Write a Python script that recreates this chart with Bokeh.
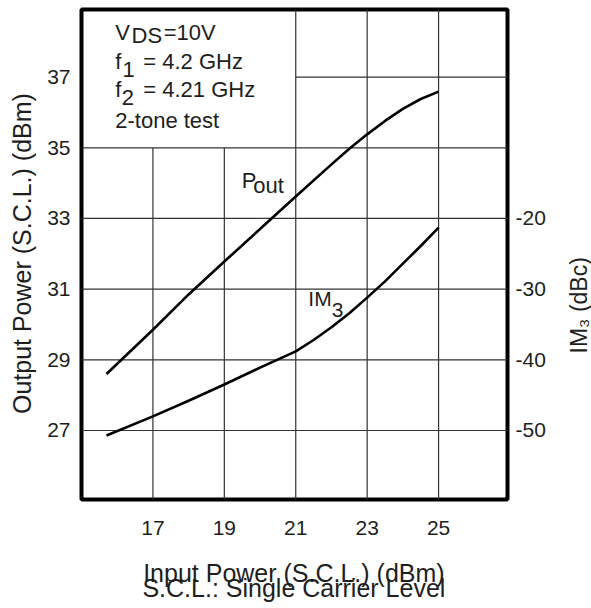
import math
from bokeh.plotting import figure
from bokeh.models import Range1d, LinearAxis, Label, FixedTicker, PrintfTickFormatter
from bokeh.layouts import row, column
from bokeh.embed import file_html
from bokeh.resources import INLINE

# ---- data ----
pin_pout = [15.7, 17, 18, 19, 20, 21, 22, 22.5, 23, 23.5, 24, 24.5, 25]
pout = [28.6, 29.85, 30.85, 31.78, 32.7, 33.62, 34.53, 34.97, 35.38, 35.76, 36.1, 36.38, 36.59]
pin_im3 = [15.7, 17, 18, 19, 20, 21, 21.5, 22, 22.5, 23, 23.5, 24, 24.5, 25]
im3 = [-50.7, -48.0, -45.8, -43.5, -41.1, -38.8, -37.2, -35.4, -33.4, -31.2, -28.9, -26.4, -23.9, -21.3]
x_ticks = [17, 19, 21, 23, 25]
y_ticks = [27, 29, 31, 33, 35, 37]
im3_ticks = [-50, -40, -30, -20]

FONT = "Liberation Sans"
INK = "#1e1e1e"
X0, X1 = 15.0, 26.93
Y0, Y1 = 25.047, 38.913
# IM3 axis: -50 dBc aligned with 27 dBm, 10 dB per 2 dBm
def to_im3(v):
    return -50 + (v - 27) * 5

W_LEFT, W_MAIN, W_RIGHT = 40, 520, 31
H_MAIN, H_BOTTOM = 545, 63

p = figure(width=W_MAIN, height=H_MAIN, x_range=Range1d(X0, X1), y_range=Range1d(Y0, Y1),
           output_backend="svg", toolbar_location=None,
           min_border_left=41, min_border_right=53, min_border_top=9, min_border_bottom=46)
p.extra_y_ranges = {"im3": Range1d(to_im3(Y0), to_im3(Y1))}
p.xgrid.visible = False
p.ygrid.visible = False
p.outline_line_color = "black"
p.outline_line_width = 4
p.background_fill_color = "white"
p.border_fill_color = "white"

def style_axis(ax, standoff):
    ax.axis_line_color = None
    ax.major_tick_line_color = None
    ax.minor_tick_line_color = None
    ax.major_tick_out = 0
    ax.major_tick_in = 0
    ax.minor_tick_out = 0
    ax.minor_tick_in = 0
    ax.major_label_text_font = FONT
    ax.major_label_text_font_size = "21px"
    ax.major_label_text_color = INK
    ax.major_label_standoff = standoff
    ax.axis_label_standoff = 0

xa = p.xaxis[0]
xa.ticker = FixedTicker(ticks=x_ticks)
style_axis(xa, 21)

ya = p.yaxis[0]
ya.ticker = FixedTicker(ticks=y_ticks)
style_axis(ya, 11)

rax = LinearAxis(y_range_name="im3", ticker=FixedTicker(ticks=im3_ticks),
                 formatter=PrintfTickFormatter(format="%d"))
style_axis(rax, 8)
p.add_layout(rax, "right")

# ---- grid (left-top area kept clear for the note box) ----
gx0, gy0, gx1, gy1 = [], [], [], []
for t in x_ticks:
    gx0.append(t); gx1.append(t); gy0.append(Y0); gy1.append(35 if t < 21 else Y1)
for t in y_ticks:
    gx0.append(X0 if t < 37 else 21); gx1.append(X1); gy0.append(t); gy1.append(t)
p.segment(gx0, gy0, gx1, gy1, line_color="#333333", line_width=1.2)

# ---- curves ----
p.line(pin_pout, pout, line_color="black", line_width=2.6, line_join="round")
p.line(pin_im3, im3, line_color="black", line_width=2.6, line_join="round", y_range_name="im3")

def lab(fig, text, x, y, size="22px", **kw):
    fig.add_layout(Label(x=x, y=y, text=text, text_font=FONT, text_font_size=size,
                         text_color=INK, **kw))

# note box
lab(p, "V", 15.945, 37.895)
lab(p, "DS", 16.40, 37.81)
lab(p, "=10V", 17.30, 37.895)
lab(p, "f", 15.945, 37.074)
lab(p, "1", 16.15, 36.99)
lab(p, "= 4.2 GHz", 16.73, 37.074)
lab(p, "f", 15.945, 36.29)
lab(p, "2", 16.13, 36.197)
lab(p, "= 4.21 GHz", 16.73, 36.29)
lab(p, "2-tone test", 15.945, 35.413)

# curve labels
lab(p, "P", 19.49, 33.707)
lab(p, "out", 19.81, 33.574)
lab(p, "IM", 21.352, 30.396, size="21px")
lab(p, "3", 22.01, 30.207, size="21px")

# ---- title strips (pixel coordinates, y measured from the top) ----
def strip(w, h):
    f = figure(width=w, height=h, x_range=Range1d(0, w), y_range=Range1d(h, 0),
               output_backend="svg", toolbar_location=None,
               x_axis_type=None, y_axis_type=None, min_border=0)
    f.grid.visible = False
    f.outline_line_color = None
    f.background_fill_color = "white"
    f.border_fill_color = "white"
    return f

left_fig = strip(W_LEFT, H_MAIN)
lab(left_fig, "Output Power (S.C.L.) (dBm)", 21.7, 271.5, size="25px",
    angle=math.pi / 2, text_align="center", text_baseline="middle")

right_fig = strip(W_RIGHT, H_MAIN)
lab(right_fig, "IM\u2083 (dBc)", 18, 329, size="23px",
    angle=math.pi / 2, text_align="center", text_baseline="middle")

bottom_fig = strip(W_LEFT + W_MAIN + W_RIGHT, H_BOTTOM)
lab(bottom_fig, "Input Power (S.C.L.) (dBm)", 293.4, 27.7, size="25px",
    text_align="center", text_baseline="alphabetic")
lab(bottom_fig, "S.C.L.: Single Carrier Level", 293.4, 42.7, size="25px",
    text_align="center", text_baseline="alphabetic")

layout = column(row(left_fig, p, right_fig), bottom_fig)

open("out.html", "w").write(file_html(layout, INLINE))
